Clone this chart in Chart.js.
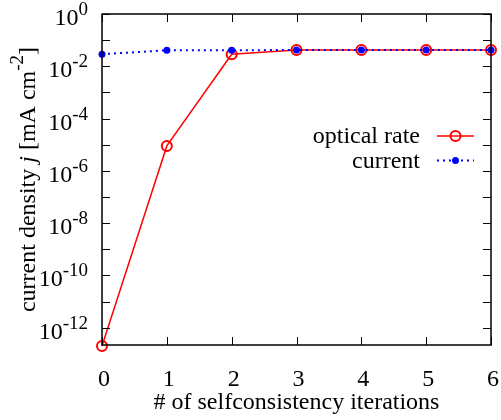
<!DOCTYPE html>
<html>
<head>
<meta charset="UTF-8">
<script src="https://cdn.jsdelivr.net/npm/chart.js"></script>
<style>
  html, body { margin: 0; padding: 0; background: #fff; }
  #wrap { width: 501px; height: 420px; }
</style>
</head>
<body>
<div id="wrap"><canvas id="grafica" width="501" height="420"></canvas></div>
<script>
const iteraciones = [0, 1, 2, 3, 4, 5, 6];
const tasaOptica = [2e-13, 9e-6, 2.9e-2, 4.2e-2, 4.2e-2, 4.2e-2, 4.2e-2];
const corriente  = [2.9e-2, 4.1e-2, 4.1e-2, 4.2e-2, 4.2e-2, 4.2e-2, 4.2e-2];
const exponentes = [0, -1, -2, -3, -4, -5, -6, -7, -8, -9, -10, -11, -12];
const xTicks = [0, 1, 2, 3, 4, 5, 6];

const FUENTE = "'Liberation Serif', 'Times New Roman', Times, serif";

// ejes, ticks hacia dentro y etiquetas estilo gnuplot
const ejesGnuplot = {
  id: 'ejesGnuplot',
  afterDraw(chart) {
    const ctx = chart.ctx;
    const a = chart.chartArea;
    const xs = chart.scales.x, ys = chart.scales.y;
    ctx.save();
    ctx.strokeStyle = '#000';
    ctx.lineWidth = 1.5;
    ctx.strokeRect(a.left, a.top, a.right - a.left, a.bottom - a.top);

    const L = 8;
    ctx.lineWidth = 1;
    ctx.beginPath();
    exponentes.forEach(e => {
      const py = Math.round(ys.getPixelForValue(Math.pow(10, e))) + 0.5;
      ctx.moveTo(a.left, py); ctx.lineTo(a.left + L, py);
      ctx.moveTo(a.right, py); ctx.lineTo(a.right - L, py);
    });
    xTicks.forEach(v => {
      const px = Math.round(xs.getPixelForValue(v)) + 0.5;
      ctx.moveTo(px, a.bottom); ctx.lineTo(px, a.bottom - L);
      ctx.moveTo(px, a.top); ctx.lineTo(px, a.top + L);
    });
    ctx.stroke();

    ctx.fillStyle = '#000';
    // etiquetas y: 10^n
    exponentes.filter(e => e % 2 === 0).forEach(e => {
      const py = ys.getPixelForValue(Math.pow(10, e));
      const sup = e === 0 ? '0' : '-' + Math.abs(e);
      ctx.font = '19px ' + FUENTE;
      const wSup = ctx.measureText(sup).width;
      ctx.textAlign = 'right';
      ctx.textBaseline = 'alphabetic';
      const derecha = 88;
      ctx.fillText(sup, derecha, py + 1);
      ctx.font = '24px ' + FUENTE;
      ctx.fillText('10', derecha - wSup, py + 11);
    });

    // etiquetas x
    ctx.font = '24px ' + FUENTE;
    ctx.textAlign = 'center';
    xTicks.forEach(v => {
      ctx.fillText(String(v), xs.getPixelForValue(v) + 2, 386);
    });

    // titulo x
    ctx.fillText('# of selfconsistency iterations', (a.left + a.right) / 2, 409);

    // titulo y (girado)
    const partes = [
      { t: 'current density ', f: '24px ' + FUENTE, dy: 0 },
      { t: 'j', f: 'italic 24px ' + FUENTE, dy: 0 },
      { t: ' [mA cm', f: '24px ' + FUENTE, dy: 0 },
      { t: '-2', f: '19px ' + FUENTE, dy: -12 },
      { t: ']', f: '24px ' + FUENTE, dy: 0 }
    ];
    let total = 0;
    partes.forEach(p => { ctx.font = p.f; p.w = ctx.measureText(p.t).width; total += p.w; });
    ctx.translate(35, (a.top + a.bottom) / 2);
    ctx.rotate(-Math.PI / 2);
    ctx.textAlign = 'left';
    let cx = -total / 2;
    partes.forEach(p => {
      ctx.font = p.f;
      ctx.fillText(p.t, cx, p.dy);
      cx += p.w;
    });
    ctx.restore();

    // leyenda
    ctx.save();
    ctx.font = '24px ' + FUENTE;
    ctx.textAlign = 'right';
    ctx.textBaseline = 'alphabetic';
    ctx.fillStyle = '#000';
    const filas = [
      { y: 136, texto: 'optical rate', ds: chart.data.datasets[1] },
      { y: 160.5, texto: 'current', ds: chart.data.datasets[0] }
    ];
    filas.forEach(r => {
      ctx.fillText(r.texto, 420, r.y + 7);
      ctx.strokeStyle = r.ds.borderColor;
      ctx.lineWidth = r.ds.borderWidth;
      ctx.setLineDash(r.ds.borderDash || []);
      ctx.beginPath();
      ctx.moveTo(437, r.y); ctx.lineTo(474, r.y);
      ctx.stroke();
      ctx.setLineDash([]);
      ctx.beginPath();
      ctx.arc(455.5, r.y, r.ds.pointRadius, 0, Math.PI * 2);
      if (r.ds.pointBackgroundColor !== 'transparent') {
        ctx.fillStyle = r.ds.pointBackgroundColor;
        ctx.fill();
        ctx.fillStyle = '#000';
      } else {
        ctx.lineWidth = r.ds.pointBorderWidth;
        ctx.stroke();
      }
    });
    ctx.restore();
  }
};

const grafica = new Chart(document.getElementById('grafica'), {
  type: 'line',
  data: {
    labels: iteraciones,
    datasets: [
      {
        label: 'current',
        data: iteraciones.map((x, i) => ({ x, y: corriente[i] })),
        borderColor: '#0000ff',
        backgroundColor: '#0000ff',
        borderWidth: 2,
        borderDash: [2, 4],
        pointRadius: 3.5,
        pointBackgroundColor: '#0000ff',
        pointBorderWidth: 0,
        tension: 0,
        clip: false,
        order: 1
      },
      {
        label: 'optical rate',
        data: iteraciones.map((x, i) => ({ x, y: tasaOptica[i] })),
        borderColor: '#ff0000',
        backgroundColor: 'transparent',
        borderWidth: 1.5,
        pointRadius: 5,
        pointBackgroundColor: 'transparent',
        pointBorderColor: '#ff0000',
        pointBorderWidth: 2,
        tension: 0,
        clip: false,
        order: 2
      }
    ]
  },
  options: {
    responsive: false,
    animation: false,
    layout: { padding: { left: 102, right: 10, top: 14, bottom: 75 } },
    plugins: { legend: { display: false }, tooltip: { enabled: false } },
    scales: {
      x: {
        type: 'linear',
        display: false,
        min: 0, max: 6
      },
      y: {
        type: 'logarithmic',
        display: false,
        min: Math.pow(10, -12.66), max: 1
      }
    }
  },
  plugins: [ejesGnuplot]
});
</script>
</body>
</html>
